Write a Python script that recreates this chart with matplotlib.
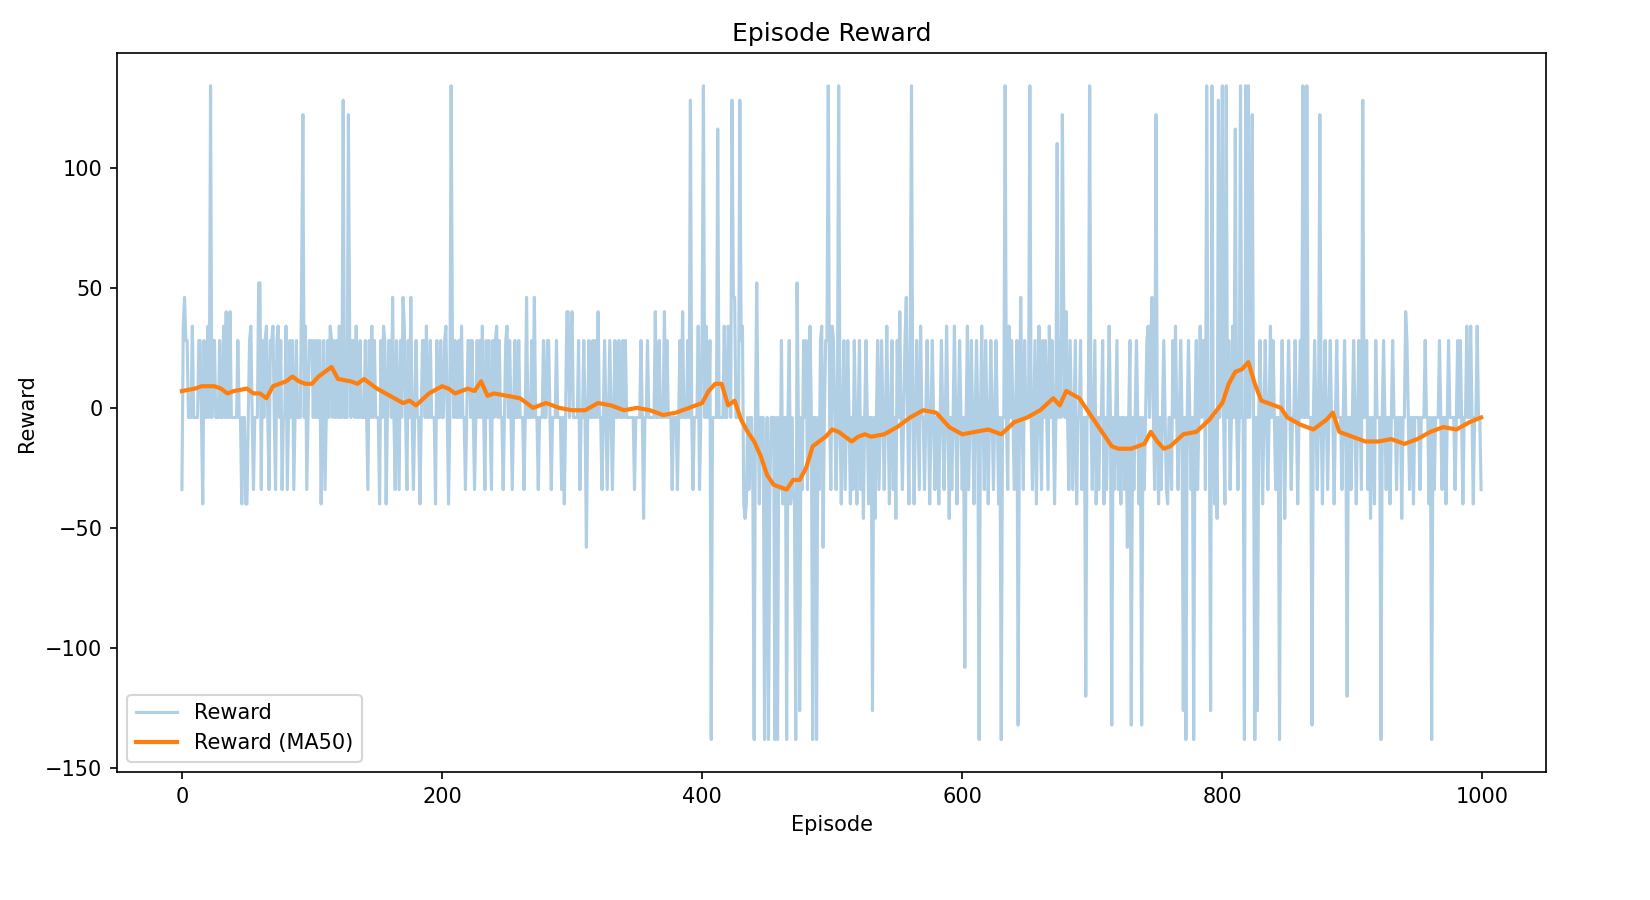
import matplotlib
matplotlib.use("Agg")
import matplotlib.pyplot as plt
import numpy as np

# reward levels seen in the chart (code -> reward)
level_codes = {
    "o": -4, "a": 28, "b": 34, "c": 40, "d": 46, "e": 52,
    "x": -34, "y": -40, "z": -46, "w": -58,
    "H": 134, "G": 128, "F": 122, "E": 116, "D": 110,
    "L": -138, "K": -132, "J": -126, "I": -120, "M": -108,
}

# episode rewards, 10 episodes per string
reward_chunks = [
    "xbdaaooobo", "oooaaoyaoo", "boHoaaoooa", "oobocoocoo", "oooaooyooy",
    "yoaboxoooe", "exaoaboxaa", "boxaboaxoo", "bxoaoaxoao", "ooeFobxoaa",
    "aoaoaoayoa", "xoaobaoaoa", "obooGoooFa", "oaaobooaoo", "oaoxaoboao",
    "ooyaobayoa", "aodoxaoxao", "dboxaodoxo", "aooyoaaobo", "oaoooyaooa",
    "ooaboyoHao", "aooaobooxo", "aaoaoxoaoa", "oboxaoaoxa", "oaboaooxoa",
    "boaoxoaooa", "oooxodoooa", "odooxoooao", "oaaoxoooao", "ooxoyoccoa",
    "cooooaxooa", "owoaooaoao", "cooxoaoxoa", "oxoaooaooa", "oaooooooxo",
    "oooaozooao", "oooocooaoo", "ocoaoooxoo", "oxoaocoooa", "oGoxooobxo",
    "bHobooaLoo", "ooEooooboo", "baoGddoooG", "abyzyoxoox", "LoeoyoooLx",
    "oLyoooLoLo", "xayooLoayo", "xyLeoJoxao", "axoboLooLo", "xabwoaaHox",
    "baoxoHoyoa", "xoaoyoxaoy", "oaxozoaoyo", "oJozoaxoao", "xoboyoaxoz",
    "aocoxoadoy", "aHoyoaoxbo", "oxoaoyoaox", "ooyoaoxobo", "zoxoboyoao",
    "xoMobxoaoy", "oaoLoboxao", "yoaoxoaoyo", "LooHoxboao", "xoaKodoxao",
    "ooHoxoayob", "oxaoaoxboa", "oyoDoaoFdo", "coxaoxoayo", "oaxooIooHo",
    "xoayoxooay", "oxoboKoxoa", "xoyooxowoa", "KoxoaoyoKo", "xoaboadoxF",
    "oyoxoaoxyo", "oxaoboxoao", "JoLoaoxoLo", "axoboaaxHo", "oJHoyozGoa",
    "HoyHoaxobo", "EoxoHooLHo", "HobFoLoJoa", "oyoaoxoboa", "oxooLoaozo",
    "oaoxooaoyo", "aoHooHoooK", "oaoxoFoyoa", "oxoaooyoao", "ooxoaoIoox",
    "oaoyoaoxGo", "oaxozooyao", "ooLoaoxooy", "oaooxooozo", "ocaoxooyoo",
    "ooxoooaooy", "oLoxoooaox", "ooyoaoooox", "oaoaoyoobo", "oboyooboox",
]

rewards = [level_codes[ch] for chunk in reward_chunks for ch in chunk]
episodes = list(range(len(rewards)))

# 50-episode moving average
ma_episode = [0, 10, 15, 25, 30, 35, 40, 50, 55, 60, 65, 70, 80, 85, 90, 95,
              100, 105, 110, 115, 120, 130, 135, 140, 145, 150, 160, 170, 175,
              180, 190, 200, 205, 210, 220, 225, 230, 235, 240, 250, 260, 270,
              280, 290, 300, 310, 320, 330, 340, 350, 360, 370, 380, 390, 400,
              405, 410, 415, 420, 425, 430, 435, 440, 445, 450, 455, 460, 465,
              470, 475, 480, 485, 490, 495, 500, 505, 510, 515, 520, 525, 530,
              540, 550, 560, 570, 580, 590, 600, 610, 620, 630, 640, 650, 660,
              670, 675, 680, 690, 700, 705, 710, 715, 720, 730, 740, 745, 750,
              755, 760, 770, 780, 790, 800, 805, 810, 815, 820, 825, 830, 840,
              845, 850, 860, 870, 880, 885, 890, 900, 910, 920, 930, 940, 950,
              960, 970, 980, 990, 999]
ma_value = [7, 8, 9, 9, 8, 6, 7, 8, 6, 6, 4, 9, 11, 13, 11, 10,
            10, 13, 15, 17, 12, 11, 10, 12, 10, 8, 5, 2, 3,
            1, 6, 9, 8, 6, 8, 7, 11, 5, 6, 5, 4, 0,
            2, 0, -1, -1, 2, 1, -1, 0, -1, -3, -2, 0, 2,
            7, 10, 10, 1, 3, -5, -10, -14, -20, -28, -32, -33, -34,
            -30, -30, -25, -16, -14, -12, -9, -10, -12, -14, -12, -11, -12,
            -11, -8, -4, -1, -2, -8, -11, -10, -9, -11, -6, -4, -1,
            4, 1, 7, 4, -4, -8, -12, -16, -17, -17, -15, -10, -14,
            -17, -16, -11, -10, -5, 2, 10, 15, 16, 19, 10, 3, 1,
            0, -4, -7, -9, -5, -2, -10, -12, -14, -14, -13, -15, -13,
            -10, -8, -9, -6, -4]

fig = plt.figure(figsize=(11, 6), dpi=150)
ax = fig.add_axes([0.0709, 0.142, 0.8661, 0.799])
ax.plot(episodes, rewards, color="#1f77b4", alpha=0.35, linewidth=1.5, label="Reward")
ax.plot(ma_episode, ma_value, color="#ff7f0e", linewidth=2, label="Reward (MA50)")
ax.set_title("Episode Reward")
ax.set_xlabel("Episode")
ax.set_ylabel("Reward")
ax.set_yticks([-150, -100, -50, 0, 50, 100])
ax.legend(loc="lower left")
fig.savefig("out.png", dpi=150)
